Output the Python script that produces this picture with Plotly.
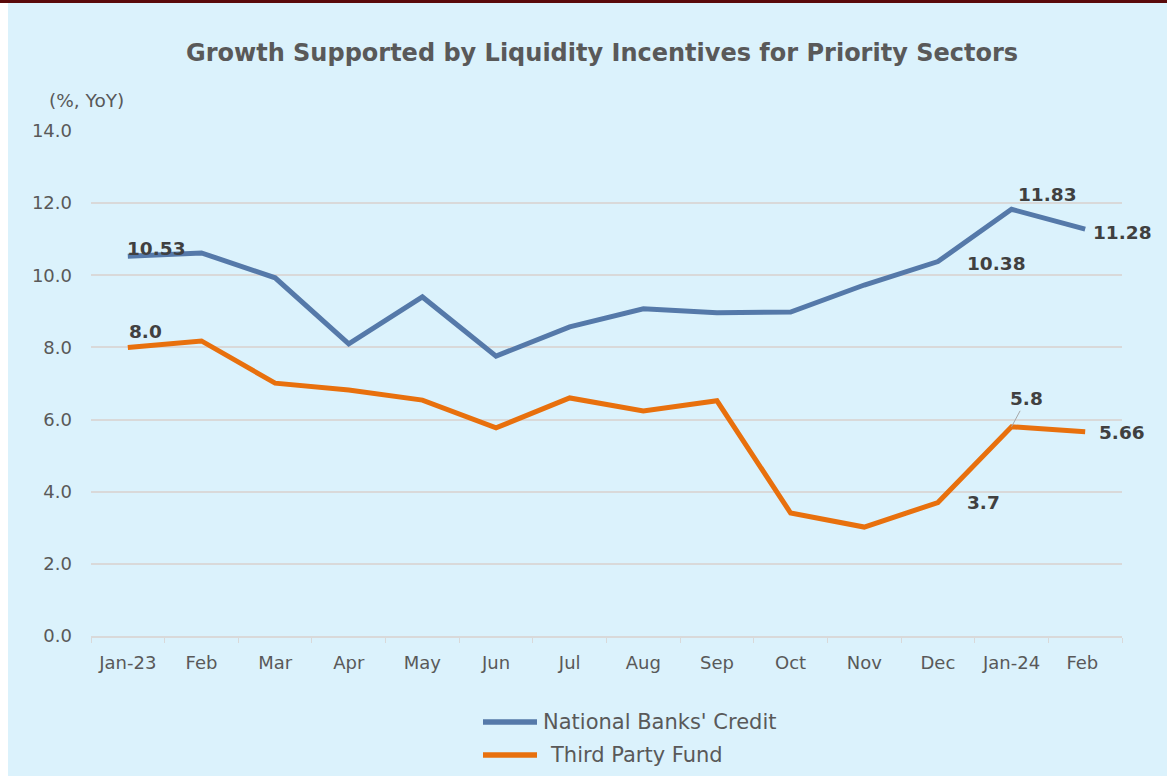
import plotly.graph_objects as go

months = ["Jan-23", "Feb", "Mar", "Apr", "May", "Jun", "Jul", "Aug", "Sep", "Oct", "Nov", "Dec", "Jan-24", "Feb "]
credit = [10.53, 10.62, 9.93, 8.10, 9.40, 7.76, 8.57, 9.07, 8.96, 8.98, 9.73, 10.38, 11.83, 11.28]
tpf = [8.0, 8.18, 7.01, 6.82, 6.54, 5.77, 6.60, 6.24, 6.52, 3.41, 3.02, 3.7, 5.8, 5.66]
y_ticks = [0, 2, 4, 6, 8, 10, 12, 14]
series_names = ["National Banks' Credit", "Third Party Fund"]
credit_labels = {0: "10.53", 11: "10.38", 12: "11.83", 13: "11.28"}
tpf_labels = {0: "8.0", 11: "3.7", 12: "5.8", 13: "5.66"}

BLUE = "#5579A9"
ORANGE = "#E8700D"
GREY = "#595959"
LABEL = "#404040"
BG = "#DBF2FC"
FONT = "DejaVu Sans, Verdana, sans-serif"

W, H = 1167, 776
L, R, T, B = 91, 45, 131, 140
PW, PH = W - L - R, H - T - B


def px(page_x):
    return (page_x - L) / PW


def py(page_y):
    return (H - B - page_y) / PH


fig = go.Figure()
colors = [BLUE, ORANGE]
for name, vals, col in zip(series_names, [credit, tpf], colors):
    fig.add_trace(go.Scatter(x=months, y=vals, mode="lines", name=name,
                             line=dict(color=col, width=5), showlegend=False))

# data label offsets (pixels) from their points
credit_shift = {0: (29, 8), 11: (59, -2), 12: (36, 15), 13: (37, -3)}
tpf_shift = {0: (18, 16), 11: (46, 0), 13: (37, -1)}
lab_font = dict(family=FONT, size=18.5, color=LABEL)
for i, txt in credit_labels.items():
    dx, dy = credit_shift[i]
    fig.add_annotation(x=months[i], y=credit[i], text="<b>%s</b>" % txt, showarrow=False,
                       xshift=dx, yshift=dy, font=lab_font)
for i, txt in tpf_labels.items():
    if i == 12:
        fig.add_annotation(x=months[i], y=tpf[i], text="<b>%s</b>" % txt, showarrow=True,
                           ax=15, ay=-28, arrowhead=0, arrowwidth=1, arrowcolor="#A6A6A6",
                           font=lab_font)
        continue
    dx, dy = tpf_shift[i]
    fig.add_annotation(x=months[i], y=tpf[i], text="<b>%s</b>" % txt, showarrow=False,
                       xshift=dx, yshift=dy, font=lab_font)

fig.add_annotation(xref="paper", yref="paper", x=px(47), y=py(101),
                   xanchor="left", yanchor="middle", text="(%, YoY)", showarrow=False,
                   font=dict(family=FONT, size=18.5, color=GREY))

# custom legend (longer line swatches like the original)
leg_y = [722, 755]
leg_text_x = [541, 548]
for name, col, ly, tx in zip(series_names, colors, leg_y, leg_text_x):
    fig.add_shape(type="line", xref="paper", yref="paper", x0=px(483), x1=px(537),
                  y0=py(ly), y1=py(ly), line=dict(color=col, width=5.5))
    fig.add_annotation(xref="paper", yref="paper", x=px(tx), y=py(ly), xanchor="left",
                       yanchor="middle", text=name, showarrow=False,
                       font=dict(family=FONT, size=21, color=GREY))

# white left strip and dark top border of the original frame
fig.add_shape(type="rect", xref="paper", yref="paper", x0=px(0), x1=px(8),
              y0=py(H), y1=py(0), fillcolor="white", line_width=0, layer="below")
fig.add_shape(type="rect", xref="paper", yref="paper", x0=px(0), x1=px(W),
              y0=py(3), y1=py(0), fillcolor="#5A0A0A", line_width=0, layer="below")

fig.update_layout(
    width=W, height=H,
    margin=dict(l=L, r=R, t=T, b=B),
    paper_bgcolor=BG, plot_bgcolor=BG,
    font=dict(family=FONT, color=GREY),
    showlegend=False,
    hovermode=False,
    title=dict(text="<b>Growth Supported by Liquidity Incentives for Priority Sectors</b>",
               x=602 / W, xanchor="center", y=1 - 53 / H, yanchor="middle",
               xref="container", yref="container",
               font=dict(family=FONT, size=24, color=GREY)),
    xaxis=dict(type="category", range=[-0.5, 13.5], tickson="boundaries", ticks="outside",
               ticklen=5, tickcolor="#D9D9D9", showline=True, linecolor="#D9D9D9", linewidth=2,
               showgrid=False, tickfont=dict(family=FONT, size=18, color=GREY),
               ticklabelstandoff=9, automargin=False),
    yaxis=dict(range=[0, 14], tickvals=y_ticks, ticktext=["%.1f" % v for v in y_ticks],
               showgrid=True, gridcolor="#D9D9D9", gridwidth=2, zeroline=False,
               tickfont=dict(family=FONT, size=18, color=GREY), ticklabelstandoff=18,
               automargin=False),
)

fig.write_html("out.html", config={"displayModeBar": False},
               post_script="document.body.style.margin='0';document.body.style.overflow='hidden';")
